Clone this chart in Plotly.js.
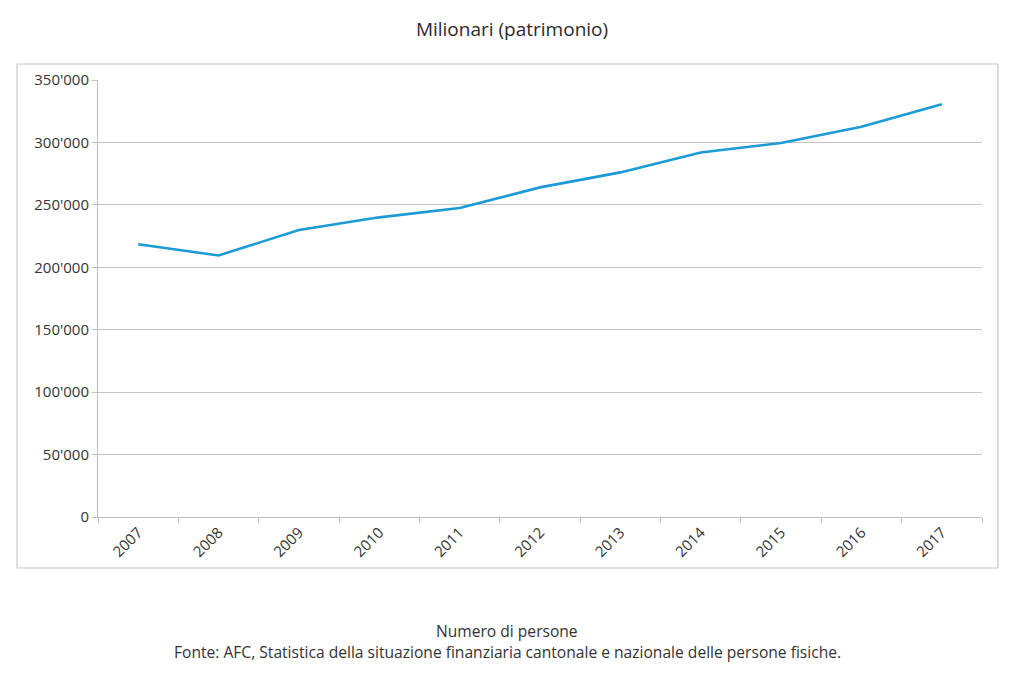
<!DOCTYPE html>
<html>
<head>
<meta charset="utf-8">
<script src="https://cdn.plot.ly/plotly-3.0.1.min.js"></script>
<style>html,body{margin:0;padding:0;background:#fff;}#chart{width:1024px;height:683px;}</style>
</head>
<body>
<div id="chart"></div>
<script>
const years = ['2007','2008','2009','2010','2011','2012','2013','2014','2015','2016','2017'];
const millionaires = [218500, 209500, 229800, 240000, 247500, 264000, 276000, 292000, 299500, 312500, 330500];
const yTicks = [0, 50000, 100000, 150000, 200000, 250000, 300000, 350000];
const titleText = 'Milionari (patrimonio)';
const unitText = 'Numero di persone';
const sourceText = 'Fonte: AFC, Statistica della situazione finanziaria cantonale e nazionale delle persone fisiche.';

const fontFam = '"Open Sans", Lato, sans-serif';

const trace = {
  x: years,
  y: millionaires,
  type: 'scatter',
  mode: 'lines',
  line: {color: '#1a9ad6', width: 2.6},
  hoverinfo: 'x+y'
};

const layout = {
  width: 1024,
  height: 683,
  margin: {l: 98, r: 42, t: 80, b: 166},
  paper_bgcolor: '#ffffff',
  plot_bgcolor: '#ffffff',
  separators: ".'",
  showlegend: false,
  font: {family: fontFam, color: '#333333'},
  title: {text: titleText, x: 0.5, xanchor: 'center', y: 0.957, yanchor: 'middle',
          font: {family: fontFam, size: 19, color: '#2b2b2b'}},
  xaxis: {
    type: 'category',
    range: [-0.5, 10.5],
    tickson: 'boundaries',
    ticks: 'outside',
    ticklen: 5,
    tickcolor: '#bfbfbf',
    showline: true,
    linecolor: '#bfbfbf',
    linewidth: 1,
    showgrid: false,
    tickangle: -45,
    tickfont: {family: fontFam, size: 15, color: '#333333'},
    fixedrange: true
  },
  yaxis: {
    range: [0, 350000],
    tickvals: yTicks,
    tickformat: ',d',
    ticks: 'outside',
    ticklen: 5,
    tickcolor: '#bfbfbf',
    showline: true,
    linecolor: '#bfbfbf',
    linewidth: 1,
    showgrid: true,
    gridcolor: '#c4c4c4',
    gridwidth: 1,
    zeroline: false,
    tickfont: {family: fontFam, size: 15, color: '#333333'},
    fixedrange: true
  },
  shapes: [{
    type: 'rect', xref: 'paper', yref: 'paper',
    x0: -0.0916, x1: 1.018, y0: -0.1167, y1: 1.0366,
    line: {color: '#c8c8c8', width: 1.2}, fillcolor: 'rgba(0,0,0,0)', layer: 'below'
  }],
  annotations: [
    {text: unitText, xref: 'paper', yref: 'paper', x: 0.463, y: -0.261, xanchor: 'center', yanchor: 'middle',
     showarrow: false, font: {family: fontFam, size: 15.6, color: '#333333'}},
    {text: sourceText, xref: 'paper', yref: 'paper', x: 0.463, y: -0.309, xanchor: 'center', yanchor: 'middle',
     showarrow: false, font: {family: fontFam, size: 15.6, color: '#333333'}}
  ]
};

Plotly.newPlot('chart', [trace], layout, {displayModeBar: false, staticPlot: true});
</script>
</body>
</html>
